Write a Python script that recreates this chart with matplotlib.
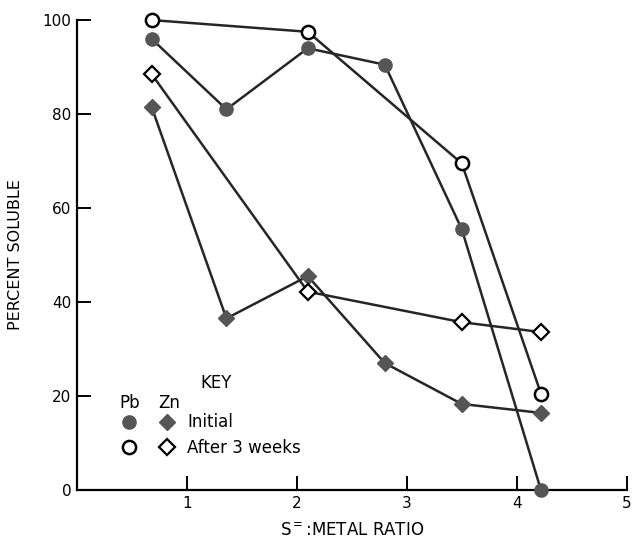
import matplotlib
matplotlib.use('Agg')
import matplotlib.pyplot as plt
from matplotlib.lines import Line2D
from matplotlib.legend_handler import HandlerTuple

# S=:metal ratio for the sampling points
ratio_initial = [0.68, 1.36, 2.1, 2.8, 3.5, 4.22]
ratio_after = [0.68, 2.1, 3.5, 4.22]

# percent soluble
pb_initial = [96, 81, 94, 90.5, 55.5, 0]
pb_after = [100, 97.5, 69.5, 20.5]
zn_initial = [81.5, 36.5, 45.5, 27, 18.3, 16.4]
zn_after = [88.5, 42.2, 35.7, 33.6]

x_ticks = [1, 2, 3, 4, 5]
y_ticks = [0, 20, 40, 60, 80, 100]

FILL = '#555555'
LINE = '#262626'

fig = plt.figure(figsize=(6.35, 5.42), dpi=100)
ax = fig.add_axes([0.121, 0.096, 0.866, 0.867])

common = dict(lw=1.8, color=LINE, clip_on=False)
ax.plot(ratio_initial, pb_initial, marker='o', ms=9.5, mfc=FILL, mec=FILL,
        zorder=3, **common)
ax.plot(ratio_after, pb_after, marker='o', ms=9.5, mfc='white', mec='black',
        mew=1.8, zorder=3, **common)
ax.plot(ratio_initial, zn_initial, marker='D', ms=8, mfc=FILL, mec=FILL,
        zorder=3, **common)
ax.plot(ratio_after, zn_after, marker='D', ms=8, mfc='white', mec='black',
        mew=1.6, zorder=3, **common)

ax.set_xlim(0, 5)
ax.set_ylim(0, 100)
ax.set_xticks(x_ticks)
ax.set_yticks(y_ticks)
ax.spines['top'].set_visible(False)
ax.spines['right'].set_visible(False)
for s in ('left', 'bottom'):
    ax.spines[s].set_linewidth(1.6)
ax.tick_params(direction='in', length=10, width=1.4, labelsize=11, pad=4)

ax.set_xlabel(r'S$^{=}$:METAL RATIO', fontsize=12, labelpad=8)
ax.set_ylabel('PERCENT SOLUBLE', fontsize=11.5)
ax.yaxis.set_label_coords(-0.097, 0.5)

# key
h_init = (Line2D([], [], ls='none', marker='o', ms=9.5, mfc=FILL, mec=FILL),
          Line2D([], [], ls='none', marker='D', ms=8, mfc=FILL, mec=FILL))
h_after = (Line2D([], [], ls='none', marker='o', ms=9.5, mfc='white',
                  mec='black', mew=1.8),
           Line2D([], [], ls='none', marker='D', ms=8, mfc='white',
                  mec='black', mew=1.6))
ax.legend([h_init, h_after], ['Initial', 'After 3 weeks'],
          handler_map={tuple: HandlerTuple(ndivide=None, pad=1.2)},
          loc='upper left', bbox_to_anchor=(0.079, 0.163), frameon=False,
          borderpad=0, borderaxespad=0, handlelength=3.36,
          handletextpad=0.66, labelspacing=0.45, fontsize=12)
ax.text(0.254, 0.228, 'KEY', transform=ax.transAxes, fontsize=12,
        ha='center', va='center')
ax.text(0.0955, 0.185, 'Pb', transform=ax.transAxes, fontsize=12,
        ha='center', va='center')
ax.text(0.168, 0.185, 'Zn', transform=ax.transAxes, fontsize=12,
        ha='center', va='center')

fig.savefig('out.png', dpi=100)
